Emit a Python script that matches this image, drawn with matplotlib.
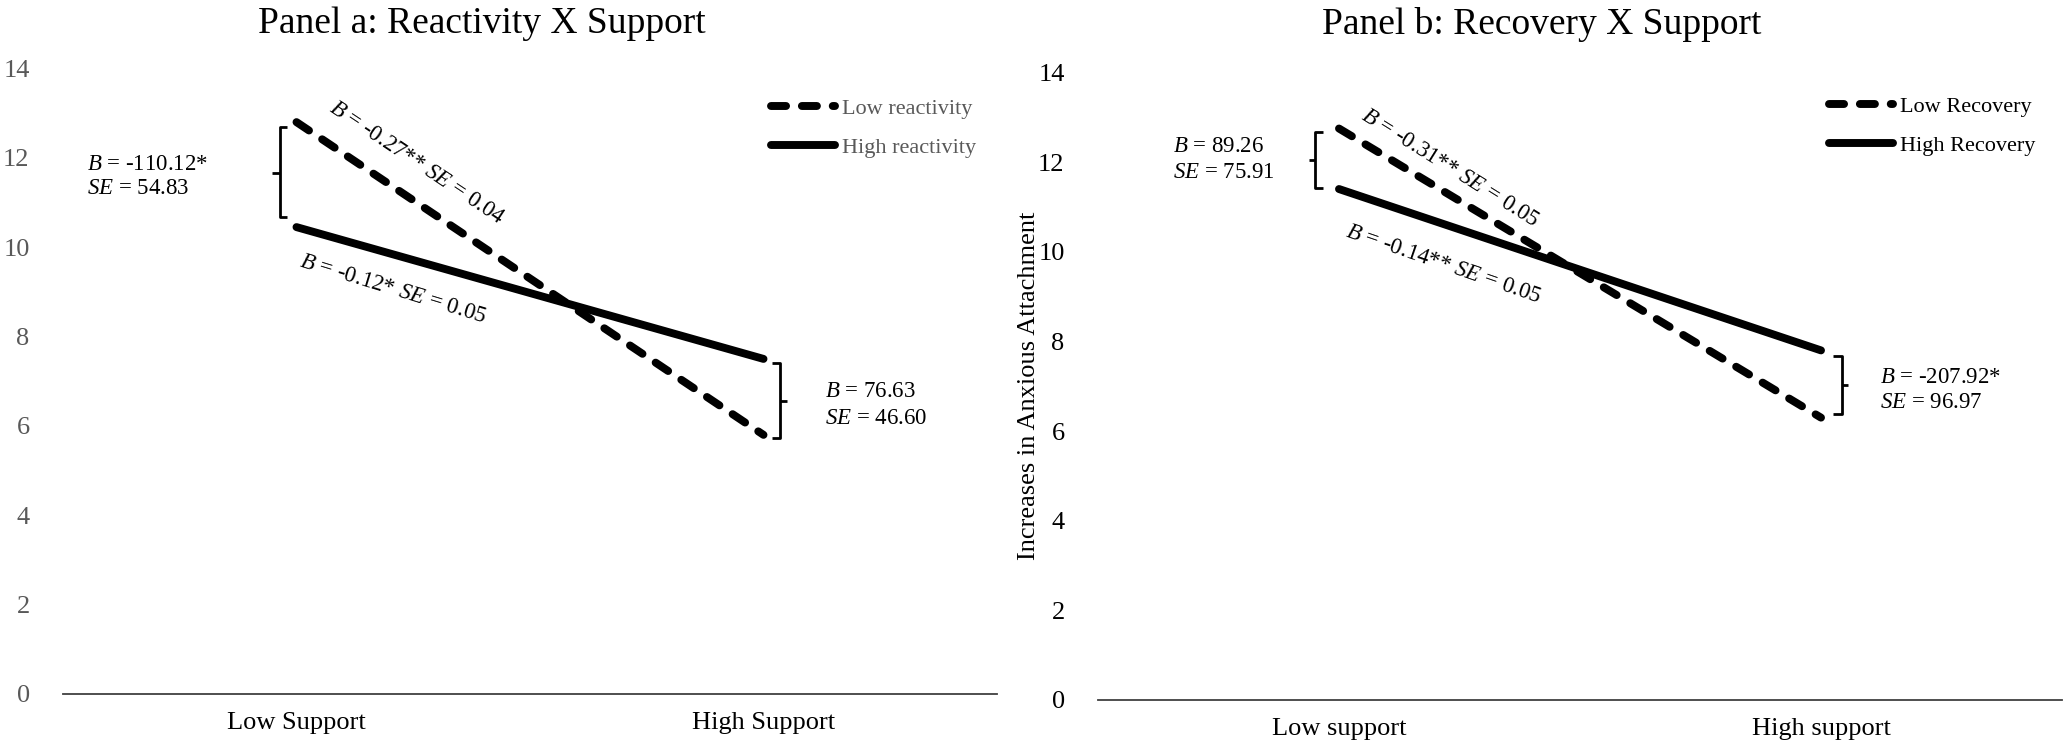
import matplotlib
matplotlib.use('Agg')
import matplotlib.pyplot as plt
from matplotlib.lines import Line2D

plt.rcParams['font.family'] = ['Liberation Serif', 'DejaVu Serif']
plt.rcParams['mathtext.fontset'] = 'custom'
plt.rcParams['mathtext.rm'] = 'Liberation Serif'
plt.rcParams['mathtext.it'] = 'Liberation Serif:italic'

# ---------------- data ----------------
categories_a = ["Low Support", "High Support"]
categories_b = ["Low support", "High support"]
low_reactivity = [12.8, 5.8]
high_reactivity = [10.45, 7.5]
low_recovery = [12.75, 6.3]
high_recovery = [11.4, 7.8]
yticks = [0, 2, 4, 6, 8, 10, 12, 14]

W, H = 2067, 749
fig = plt.figure(figsize=(W / 100, H / 100), dpi=100)


def fx(x):
    return x / W


def fy(y):
    return 1 - y / H


LW = 5.7
DASH = (0, (1.9, 2.0))
GRAY = '#595959'


def setup(ax, cats, tick_color):
    ax.set_xlim(-0.5, 1.5)
    ax.set_ylim(0, 14)
    ax.set_xticks(range(len(cats)))
    ax.set_xticklabels(cats)
    ax.set_yticks(yticks)
    for s in ['top', 'right', 'left']:
        ax.spines[s].set_visible(False)
    ax.spines['bottom'].set_color('#404040')
    ax.spines['bottom'].set_linewidth(1.3)
    ax.tick_params(axis='both', length=0, labelsize=19)
    ax.tick_params(axis='x', pad=13, labelcolor='black')
    ax.tick_params(axis='y', pad=24, labelcolor=tick_color)


def bracket(x, top, bottom, serif_dx, tick_y, tick_dx):
    kw = dict(color='black', lw=2.0, transform=fig.transFigure, solid_capstyle='butt')
    fig.add_artist(Line2D([fx(x + serif_dx), fx(x), fx(x), fx(x + serif_dx)],
                          [fy(top), fy(top), fy(bottom), fy(bottom)], **kw))
    fig.add_artist(Line2D([fx(x), fx(x + tick_dx)], [fy(tick_y), fy(tick_y)], **kw))


def ftext(x, y, s, **kw):
    fig.text(fx(x), fy(y), s, fontsize=16.5, color='black', **kw)


# ---------------- Panel a ----------------
axa = fig.add_axes([fx(63), fy(694), (997 - 63) / W, (694 - 68.5) / H])
setup(axa, categories_a, GRAY)
xa = list(range(len(categories_a)))
la, = axa.plot(xa, low_reactivity, color='black', lw=LW, linestyle=DASH,
               dash_capstyle='round', solid_capstyle='round', label='Low reactivity')
ha, = axa.plot(xa, high_reactivity, color='black', lw=LW,
               solid_capstyle='round', label='High reactivity')
axa.legend(handles=[la, ha], loc='upper left', bbox_to_anchor=(fx(771), fy(98)),
           bbox_transform=fig.transFigure, frameon=False, fontsize=16,
           handlelength=2.9, handletextpad=0.3, labelspacing=0.85,
           borderpad=0, borderaxespad=0, labelcolor=GRAY)
fig.text(fx(482), fy(24), 'Panel a: Reactivity X Support', fontsize=27,
         ha='center', va='center')

ftext(87, 165, r'$\mathit{B}$ = -110.12*', ha='left', va='center')
ftext(87, 189, r'$\mathit{SE}$ = 54.83', ha='left', va='center')
bracket(280, 127, 217, 7, 173, -8)
bracket(780, 363, 438, -8, 401, 7)
ftext(825, 392, r'$\mathit{B}$ = 76.63', ha='left', va='center')
ftext(825, 418, r'$\mathit{SE}$ = 46.60', ha='left', va='center')
ftext(417, 163, r'$\mathit{B}$ = -0.27** $\mathit{SE}$ = 0.04', ha='center', va='center',
      rotation=-33.7, rotation_mode='anchor')
ftext(393, 289, r'$\mathit{B}$ = -0.12* $\mathit{SE}$ = 0.05', ha='center', va='center',
      rotation=-17, rotation_mode='anchor')

# ---------------- Panel b ----------------
axb = fig.add_axes([fx(1098), fy(700), (2062 - 1098) / W, (700 - 72.5) / H])
setup(axb, categories_b, 'black')
xb = list(range(len(categories_b)))
lb, = axb.plot(xb, low_recovery, color='black', lw=LW, linestyle=DASH,
               dash_capstyle='round', solid_capstyle='round', label='Low Recovery')
hb, = axb.plot(xb, high_recovery, color='black', lw=LW,
               solid_capstyle='round', label='High Recovery')
axb.legend(handles=[lb, hb], loc='upper left', bbox_to_anchor=(fx(1829), fy(96)),
           bbox_transform=fig.transFigure, frameon=False, fontsize=16,
           handlelength=2.9, handletextpad=0.3, labelspacing=0.85,
           borderpad=0, borderaxespad=0, labelcolor='black')
fig.text(fx(1542), fy(24), 'Panel b: Recovery X Support', fontsize=27,
         ha='center', va='center')
fig.text(fx(1029), fy(386), 'Increases in Anxious Attachment', fontsize=19,
         rotation=90, ha='center', va='center')

ftext(1173, 147, r'$\mathit{B}$ = 89.26', ha='left', va='center')
ftext(1173, 172, r'$\mathit{SE}$ = 75.91', ha='left', va='center')
bracket(1315, 132, 188, 8, 160, -6)
bracket(1842, 356, 414, -9, 385, 6)
ftext(1880, 377, r'$\mathit{B}$ = -207.92*', ha='left', va='center')
ftext(1880, 403, r'$\mathit{SE}$ = 96.97', ha='left', va='center')
ftext(1450, 168, r'$\mathit{B}$ = -0.31** $\mathit{SE}$ = 0.05', ha='center', va='center',
      rotation=-32, rotation_mode='anchor')
ftext(1444, 264, r'$\mathit{B}$ = -0.14** $\mathit{SE}$ = 0.05', ha='center', va='center',
      rotation=-19, rotation_mode='anchor')

fig.savefig('out.png', dpi=100)
